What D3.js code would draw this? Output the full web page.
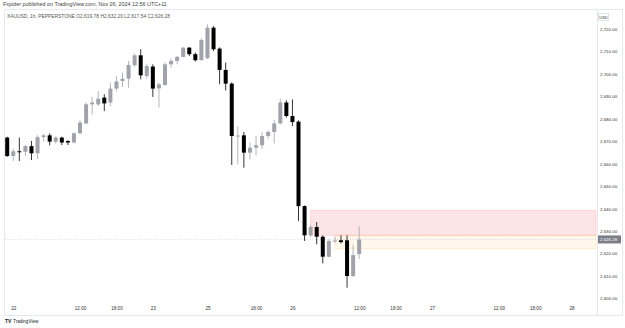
<html>
<head>
<script src="https://d3js.org/d3.v7.min.js"></script>
<style>
  body { margin: 0; background: #fff; }
  text { font-family: "Liberation Sans", Arial, sans-serif; }
</style>
</head>
<body>
<div id="chart"></div>
<script>
// hourly XAUUSD candles, index 0 = Nov 21 23:00 (UTC+11)
var opens  = [2671.6,2663.4,2665.5,2665.3,2667.8,2664.6,2671.8,2672.6,2669.8,2671.6,2670.1,2669.4,2673.5,2677.9,2686.4,2686.4,2689.4,2687.2,2693.4,2696.8,2697.8,2703.8,2708.2,2699.0,2703.2,2693.5,2695.0,2704.2,2705.7,2707.5,2711.6,2708.7,2706.1,2706.9,2720.5,2711.2,2701.7,2695.6,2672.3,2672.6,2664.9,2667.1,2668.2,2672.3,2674.1,2677.9,2687.2,2681.2,2678.7,2641.1,2628.1,2631.8,2627.5,2618.6,2625.6,2625.9,2625.9,2610.0,2619.78];
var highs  = [2672.0,2666.7,2671.6,2668.4,2670.1,2672.6,2673.2,2673.5,2672.2,2672.0,2670.4,2674.0,2679.3,2687.2,2689.8,2692.3,2690.9,2696.0,2699.0,2700.5,2705.7,2709.0,2710.9,2704.5,2704.2,2696.1,2705.0,2706.9,2707.9,2711.9,2711.9,2709.4,2715.8,2722.0,2721.2,2711.7,2705.0,2696.2,2676.6,2674.1,2669.4,2672.3,2673.9,2674.8,2679.4,2688.9,2688.2,2688.6,2679.3,2641.4,2632.8,2634.0,2628.1,2626.3,2627.5,2628.1,2628.1,2623.9,2632.20];
var lows   = [2663.0,2661.2,2661.2,2663.4,2661.6,2661.9,2669.8,2668.1,2669.0,2668.3,2668.3,2669.0,2673.1,2677.5,2681.9,2685.6,2683.4,2685.6,2692.3,2694.1,2693.8,2703.0,2697.5,2697.8,2689.7,2684.9,2694.7,2702.7,2704.2,2707.3,2707.9,2705.5,2705.8,2706.5,2710.1,2695.3,2692.6,2659.4,2659.7,2658.2,2661.9,2663.7,2666.5,2671.2,2669.0,2677.5,2680.5,2676.7,2634.5,2625.6,2627.3,2624.1,2615.6,2618.3,2624.8,2624.5,2604.8,2609.5,2617.54];
var closes = [2663.4,2665.5,2665.3,2667.8,2664.6,2671.8,2672.6,2669.8,2671.6,2669.4,2669.4,2673.5,2678.3,2686.4,2687.2,2688.9,2686.8,2693.4,2696.6,2697.8,2703.9,2708.2,2699.3,2703.4,2693.4,2695.3,2704.2,2705.7,2707.5,2711.6,2708.7,2706.0,2715.0,2720.5,2710.9,2701.7,2695.6,2672.3,2672.5,2664.9,2667.1,2668.2,2672.3,2674.1,2677.9,2687.2,2681.2,2678.5,2641.1,2628.1,2631.8,2627.5,2618.6,2625.6,2625.8,2625.1,2610.0,2619.3,2626.28];

var timeTickIdx    = [1, 12, 18, 24, 33, 41, 47, 58, 64, 70, 81, 87, 93];
var timeTickLabels = ["22","12:00","18:00","23","25","18:00","26","12:00","18:00","27","12:00","18:00","28"];
var priceTicks = [2600,2610,2620,2630,2640,2650,2660,2670,2680,2690,2700,2710,2720];

// drawn zones (start index, top price, bottom price)
var zoneStart  = [50, 54];
var zoneTop    = [2639.2, 2628.1];
var zoneBottom = [2628.1, 2622.2];

var lastPrice = 2626.28;

var W = 625, H = 328;
var plotRight = 597;

var svg = d3.select("#chart").append("svg")
  .attr("width", W).attr("height", H);

svg.append("rect").attr("width", W).attr("height", H).attr("fill", "#fff");

var x = d3.scaleLinear().domain([0, 93]).range([7.2, 571.6]);
var y = d3.scaleLinear().domain([2600, 2720]).range([298.5, 28.8]);

// frame
svg.append("rect")
  .attr("x", 4.5).attr("y", 9.5).attr("width", 618).attr("height", 306)
  .attr("fill", "none").attr("stroke", "#e6e8ee").attr("stroke-width", 1);
svg.append("line")
  .attr("x1", plotRight + 0.5).attr("x2", plotRight + 0.5)
  .attr("y1", 9.5).attr("y2", 315.5)
  .attr("stroke", "#e6e8ee");

// header
svg.append("text").attr("x", 3).attr("y", 6)
  .attr("font-size", 5.4).attr("fill", "#444")
  .text("Fxpider published on TradingView.com, Nov 26, 2024 12:56 UTC+11");
svg.append("text").attr("x", 7).attr("y", 18)
  .attr("font-size", 4.9).attr("fill", "#555")
  .text("XAUUSD, 1h, PEPPERSTONE O2,619.78 H2,632.20 L2,617.54 C2,626.28");

// zones
var zoneFill = ["rgba(242,54,69,0.13)", "rgba(255,152,0,0.08)"];
var zoneStroke = ["rgba(242,54,69,0.15)", "rgba(255,152,0,0.15)"];
zoneStart.forEach(function(s, k) {
  svg.append("rect")
    .attr("x", x(s)).attr("y", y(zoneTop[k]))
    .attr("width", plotRight - 1 - x(s))
    .attr("height", y(zoneBottom[k]) - y(zoneTop[k]))
    .attr("fill", zoneFill[k]).attr("stroke", zoneStroke[k]);
});

// last price line
svg.append("line")
  .attr("x1", 5).attr("x2", plotRight)
  .attr("y1", y(lastPrice)).attr("y2", y(lastPrice))
  .attr("stroke", "#c8cad0").attr("stroke-width", 0.7)
  .attr("stroke-dasharray", "1,1.5");

// candles
var candles = d3.range(opens.length).map(function(i) {
  return {i: i, o: opens[i], h: highs[i], l: lows[i], c: closes[i]};
});
var up = "#a2a3aa", down = "#000";

var g = svg.append("g");
g.selectAll("line.wick").data(candles).enter().append("line")
  .attr("class", "wick")
  .attr("x1", function(d) { return x(d.i); })
  .attr("x2", function(d) { return x(d.i); })
  .attr("y1", function(d) { return y(d.h); })
  .attr("y2", function(d) { return y(d.l); })
  .attr("stroke", function(d) { return d.c >= d.o ? up : down; })
  .attr("stroke-width", 0.8);

g.selectAll("rect.body").data(candles).enter().append("rect")
  .attr("class", "body")
  .attr("x", function(d) { return x(d.i) - 2; })
  .attr("width", 4)
  .attr("y", function(d) { return y(Math.max(d.o, d.c)); })
  .attr("height", function(d) { return Math.max(1, Math.abs(y(d.o) - y(d.c))); })
  .attr("fill", function(d) { return d.c >= d.o ? up : down; });

// price axis
var fmt = d3.format(",.2f");
var yAxis = svg.append("g")
  .attr("transform", "translate(" + (plotRight + 3) + ",0)")
  .call(d3.axisRight(y).tickValues(priceTicks).tickSize(0).tickPadding(0).tickFormat(fmt));
yAxis.select(".domain").remove();
yAxis.selectAll("text").attr("font-size", 4.4).attr("fill", "#333")
  .attr("font-family", "Liberation Sans, Arial, sans-serif");

// USD box
svg.append("rect").attr("x", 598.5).attr("y", 13.5).attr("width", 10).attr("height", 7)
  .attr("fill", "#fff").attr("stroke", "#e0e3eb");
svg.append("text").attr("x", 603.5).attr("y", 18.6).attr("text-anchor", "middle")
  .attr("font-size", 4).attr("fill", "#333").text("USD");

// last price badge
svg.append("rect").attr("x", plotRight + 1).attr("y", y(lastPrice) - 4)
  .attr("width", 23).attr("height", 8).attr("fill", "#7b7e87");
svg.append("text").attr("x", plotRight + 3).attr("y", y(lastPrice) + 1.6)
  .attr("font-size", 4.4).attr("fill", "#fff").text(fmt(lastPrice));

// time axis
var xAxis = svg.append("g")
  .attr("transform", "translate(0,307)")
  .call(d3.axisBottom(x).tickValues(timeTickIdx).tickSize(0).tickPadding(0)
    .tickFormat(function(d, k) { return timeTickLabels[k]; }));
xAxis.select(".domain").remove();
xAxis.selectAll("text").attr("font-size", 4.6).attr("fill", "#333")
  .attr("font-family", "Liberation Sans, Arial, sans-serif");

// logo
svg.append("text").attr("x", 5).attr("y", 323)
  .attr("font-size", 5).attr("font-weight", "bold").attr("fill", "#131722").text("TV");
svg.append("text").attr("x", 13).attr("y", 323)
  .attr("font-size", 4.6).attr("fill", "#131722").text("TradingView");
</script>
</body>
</html>
